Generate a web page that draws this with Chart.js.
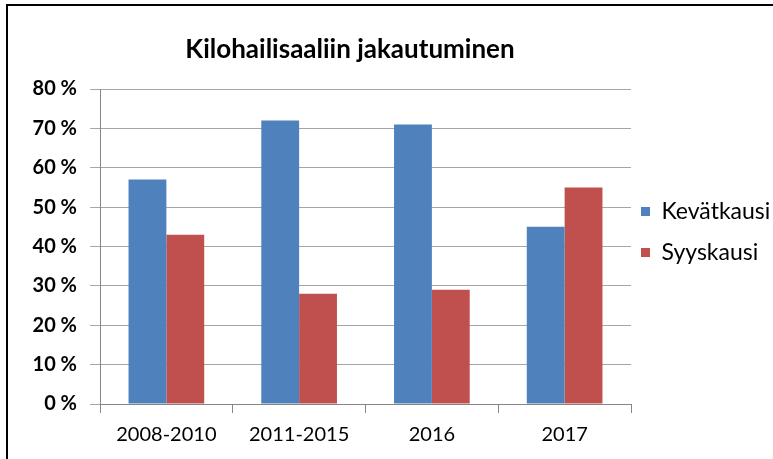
<!DOCTYPE html>
<html>
<head>
<meta charset="utf-8">
<script src="https://cdn.jsdelivr.net/npm/chart.js@4.4.0/dist/chart.umd.min.js"></script>
<style>
  html, body { margin: 0; padding: 0; background: #fff; }
</style>
</head>
<body>
<canvas id="chart" width="773" height="459"></canvas>
<script>
// data
const categories = ['2008-2010', '2011-2015', '2016', '2017'];
const seriesNames = ['Kevätkausi', 'Syyskausi'];
const kevatkausi = [57, 72, 71, 45];
const syyskausi = [43, 28, 29, 55];
const yTickValues = [0, 10, 20, 30, 40, 50, 60, 70, 80];
const titleText = 'Kilohailisaaliin jakautuminen';

const FONT = 'Lato, "Liberation Sans", sans-serif';

// frame + manual placement of title / legend
const frame = {
    id: 'frame',
    afterLayout(chart) {
        const t = chart.titleBlock;
        t.left = 0;
        t.right = 700;
        const lg = chart.legend;
        lg.left = 623;
        lg.right = 773;
        lg.top = 182;
        lg.bottom = 459;
    },
    beforeDraw(chart) {
        const ctx = chart.ctx;
        ctx.save();
        ctx.fillStyle = '#fff';
        ctx.fillRect(0, 0, chart.width, chart.height);
        ctx.fillStyle = '#000';
        ctx.fillRect(6, 4, chart.width - 6, 2);
        ctx.fillRect(6, 4, 2, chart.height - 4);
        ctx.restore();
    }
};

new Chart(document.getElementById('chart'), {
    type: 'bar',
    data: {
        labels: categories,
        datasets: [
            {
                label: seriesNames[0],
                data: kevatkausi,
                backgroundColor: '#4F81BD',
                borderWidth: 0
            },
            {
                label: seriesNames[1],
                data: syyskausi,
                backgroundColor: '#C0504D',
                borderWidth: 0
            }
        ]
    },
    options: {
        responsive: false,
        animation: false,
        devicePixelRatio: 1,
        categoryPercentage: 0.57,
        barPercentage: 1.0,
        layout: { padding: { top: 0, left: 0, right: 0, bottom: 0 } },
        plugins: {
            title: {
                display: true,
                text: titleText,
                color: '#000',
                font: { family: FONT, size: 26, weight: 'bold', lineHeight: 1.2 },
                padding: { top: 34.4, bottom: 23.4 }
            },
            legend: {
                display: true,
                position: 'right',
                align: 'start',
                maxWidth: 142,
                labels: {
                    color: '#000',
                    font: { family: FONT, size: 23 },
                    boxWidth: 9,
                    boxHeight: 9,
                    padding: 18
                }
            },
            tooltip: { enabled: false }
        },
        scales: {
            x: {
                afterFit(s) { s.height = 55; },
                grid: {
                    drawOnChartArea: false,
                    drawTicks: true,
                    tickLength: 9,
                    color: '#868686'
                },
                border: { display: true, color: '#868686', width: 1 },
                ticks: {
                    color: '#000',
                    padding: 10,
                    font: { family: FONT, size: 20 }
                }
            },
            y: {
                min: 0,
                max: 80,
                afterFit(s) { s.width = 100; },
                afterBuildTicks(s) { s.ticks = yTickValues.map(v => ({ value: v })); },
                grid: {
                    color: '#a6a6a6',
                    tickLength: 10,
                    drawTicks: true
                },
                border: { display: true, color: '#868686', width: 1 },
                ticks: {
                    color: '#000',
                    padding: 13,
                    font: { family: FONT, size: 20, weight: 'bold' },
                    callback: v => v + ' %'
                }
            }
        }
    },
    plugins: [frame]
});
</script>
</body>
</html>
